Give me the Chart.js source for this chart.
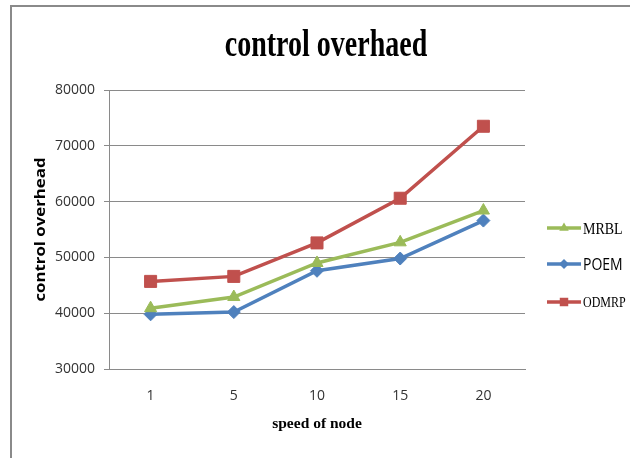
<!DOCTYPE html>
<html>
<head>
<meta charset="utf-8">
<script src="https://cdn.jsdelivr.net/npm/chart.js@4/dist/chart.umd.min.js"></script>
<style>
html,body{margin:0;padding:0;background:#fff;}
#wrap{width:630px;height:458px;position:relative;}
</style>
</head>
<body>
<div id="wrap"><canvas id="c" width="630" height="458"></canvas></div>
<script>
const categories = ['1', '5', '10', '15', '20'];
const mrbl = [40900, 42900, 49000, 52700, 58400];
const poem = [39800, 40200, 47600, 49800, 56600];
const odmrp = [45700, 46600, 52600, 60600, 73500];
const seriesNames = ['MRBL', 'POEM', 'ODMRP'];
const yTicks = [30000, 40000, 50000, 60000, 70000, 80000];
const chartTitle = 'control overhaed';
const yTitle = 'control overhead';
const xTitle = 'speed of node';

const colors = { MRBL: '#9BBB59', POEM: '#4F81BD', ODMRP: '#C0504D' };
const shapes = { MRBL: 'triangle', POEM: 'rectRot', ODMRP: 'rect' };
const radii = { MRBL: 7, POEM: 6.5, ODMRP: 8.5 };
const legendRadii = { MRBL: 5.5, POEM: 5, ODMRP: 6 };
const legendFonts = {
  MRBL: '14px "Liberation Serif"',
  POEM: '14px "Open Sans"',
  ODMRP: '12px "Liberation Serif"'
};
const legendY = { MRBL: 228, POEM: 264, ODMRP: 302 };
const values = { MRBL: mrbl, POEM: poem, ODMRP: odmrp };

function drawShape(ctx, shape, r, x, y) {
  if (shape === 'rect') {
    const s = r * Math.SQRT1_2;
    ctx.rect(x - s, y - s, 2 * s, 2 * s);
  } else if (shape === 'rectRot') {
    ctx.moveTo(x, y - r); ctx.lineTo(x + r, y); ctx.lineTo(x, y + r); ctx.lineTo(x - r, y); ctx.closePath();
  } else {
    ctx.moveTo(x, y - r);
    ctx.lineTo(x + r * Math.sin(Math.PI / 3), y + r * 0.5);
    ctx.lineTo(x - r * Math.sin(Math.PI / 3), y + r * 0.5);
    ctx.closePath();
  }
}

const frame = {
  id: 'frame',
  beforeDraw(chart) {
    const ctx = chart.ctx;
    ctx.save();
    ctx.fillStyle = '#fff';
    ctx.fillRect(0, 0, chart.width, chart.height);
    ctx.fillStyle = '#8a8a8a';
    ctx.fillRect(10, 5, 2, chart.height - 5);
    ctx.fillRect(10, 5, chart.width - 10, 2);
    ctx.restore();
  }
};

const texts = {
  id: 'texts',
  afterDraw(chart) {
    const ctx = chart.ctx;
    const area = chart.chartArea;
    ctx.save();
    // main title (tall, narrow look)
    ctx.save();
    ctx.translate(326, 56);
    ctx.scale(1, 1.35);
    ctx.font = 'bold 28px "Liberation Serif"';
    ctx.fillStyle = '#000';
    ctx.textAlign = 'center';
    ctx.textBaseline = 'alphabetic';
    ctx.fillText(chartTitle, 0, 0);
    ctx.restore();
    // y axis title
    ctx.save();
    ctx.translate(45, (area.top + area.bottom) / 2 - 0);
    ctx.rotate(-Math.PI / 2);
    ctx.scale(1.2, 1);
    ctx.font = 'bold 14px "Open Sans"';
    ctx.fillStyle = '#000';
    ctx.textAlign = 'center';
    ctx.textBaseline = 'alphabetic';
    ctx.fillText(yTitle, 0, 0);
    ctx.restore();
    // legend
    chart.data.datasets.forEach(ds => {
      const name = ds.label;
      const y = legendY[name];
      ctx.strokeStyle = ds.borderColor;
      ctx.lineWidth = 3.5;
      ctx.beginPath();
      ctx.moveTo(547, y);
      ctx.lineTo(581, y);
      ctx.stroke();
      ctx.fillStyle = ds.pointBackgroundColor;
      ctx.beginPath();
      drawShape(ctx, shapes[name], legendRadii[name], 564, y);
      ctx.fill();
      ctx.save();
      ctx.translate(583, y);
      ctx.scale(1, 1.2);
      ctx.fillStyle = '#000';
      ctx.font = legendFonts[name];
      ctx.textBaseline = 'middle';
      ctx.textAlign = 'left';
      ctx.fillText(name, 0, 1);
      ctx.restore();
    });
    ctx.restore();
  }
};

const datasets = seriesNames.map(name => ({
  label: name,
  data: values[name],
  borderColor: colors[name],
  backgroundColor: colors[name],
  pointBackgroundColor: colors[name],
  pointBorderColor: colors[name],
  pointStyle: shapes[name],
  pointRadius: radii[name],
  pointBorderWidth: 1,
  borderWidth: 3.5,
  tension: 0,
  fill: false
}));

new Chart(document.getElementById('c'), {
  type: 'line',
  data: { labels: categories, datasets: datasets },
  options: {
    responsive: false,
    animation: false,
    devicePixelRatio: 1,
    layout: { padding: { left: 20, right: 105, top: 90, bottom: 0 } },
    plugins: {
      legend: { display: false },
      tooltip: { enabled: false },
      title: { display: false }
    },
    scales: {
      x: {
        offset: true,
        grid: { display: false, drawTicks: false },
        border: { display: true, color: '#8a8a8a', width: 1 },
        ticks: {
          color: '#333',
          font: { family: '"Open Sans"', size: 14 },
          padding: 19,
          maxRotation: 0
        },
        title: {
          display: true,
          text: xTitle,
          color: '#000',
          font: { family: '"Liberation Serif"', size: 15.5, weight: 'bold' },
          padding: { top: 0, bottom: 24.5 }
        },
        afterFit(scale) { scale.height = 89; }
      },
      y: {
        min: 30000,
        max: 80000,
        afterBuildTicks(scale) { scale.ticks = yTicks.map(v => ({ value: v })); },
        grid: { color: '#8a8a8a', lineWidth: 1, drawTicks: true, tickLength: 5, tickColor: '#8a8a8a' },
        border: { display: true, color: '#8a8a8a', width: 1 },
        ticks: {
          color: '#333',
          font: { family: '"Open Sans"', size: 14 },
          padding: 9,
          callback: (v) => String(v)
        },
        title: { display: false },
        afterFit(scale) { scale.width = 89; }
      }
    }
  },
  plugins: [frame, texts]
});
</script>
</body>
</html>
